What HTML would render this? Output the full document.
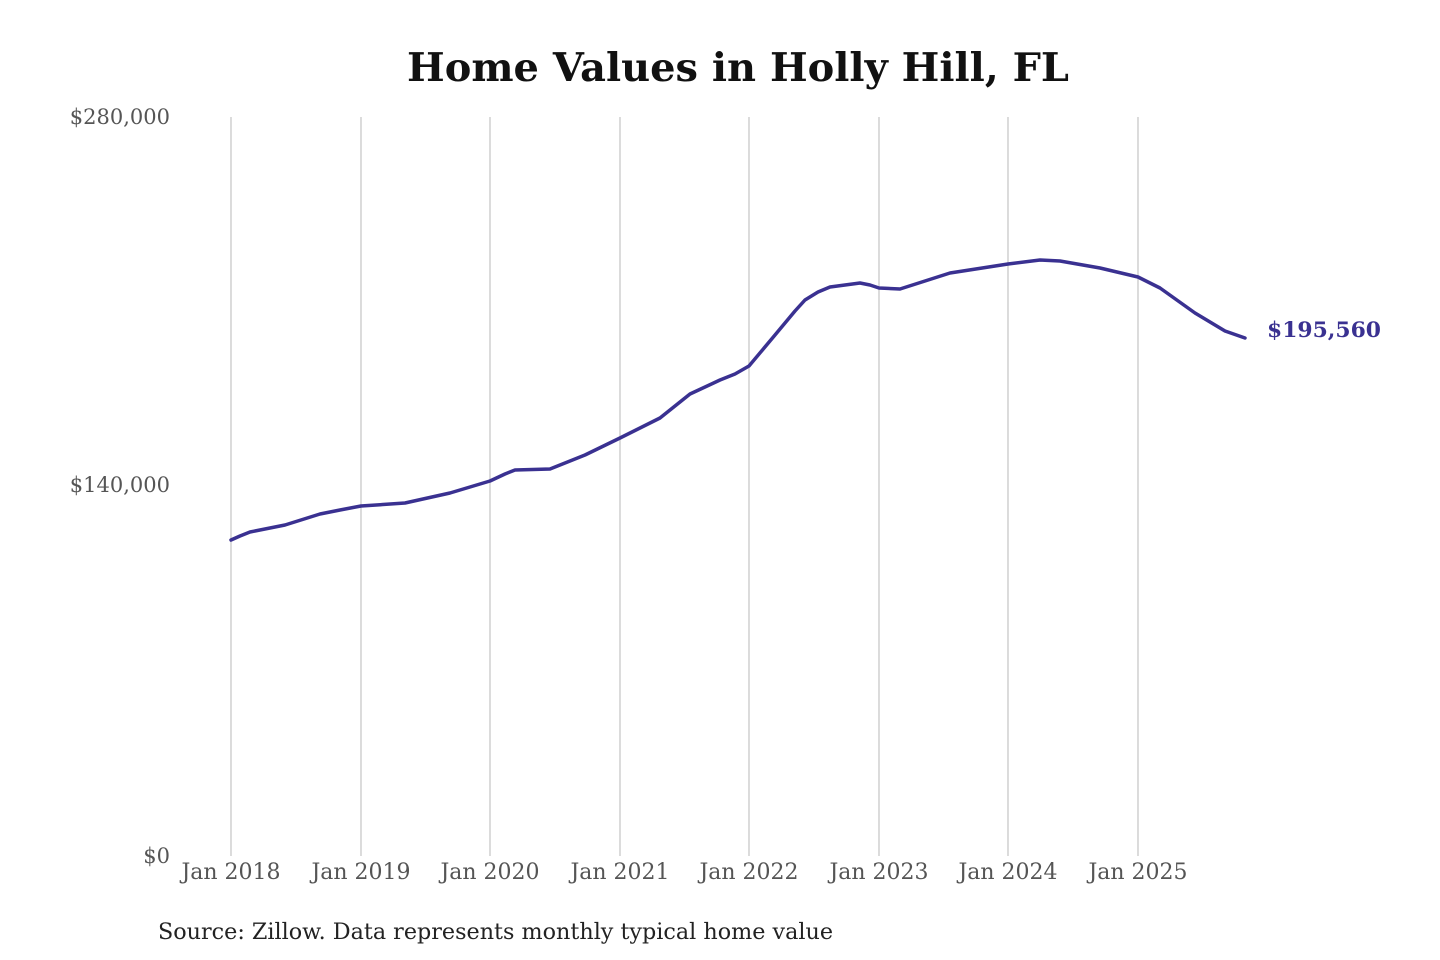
<!DOCTYPE html>
<html><head><style>
html,body{margin:0;padding:0;background:#fff;}
svg{display:block;}
text{font-family:"DejaVu Serif","Liberation Serif",serif;}
</style></head><body>
<svg width="1440" height="960" viewBox="0 0 1440 960">
<text x="738" y="81" text-anchor="middle" font-size="39" font-weight="bold" fill="#111" textLength="662" lengthAdjust="spacingAndGlyphs">Home Values in Holly Hill, FL</text>
<g stroke="#c8c8c8" stroke-width="1.3">
<line x1="231" y1="117" x2="231" y2="856"/>
<line x1="361" y1="117" x2="361" y2="856"/>
<line x1="490" y1="117" x2="490" y2="856"/>
<line x1="620" y1="117" x2="620" y2="856"/>
<line x1="749" y1="117" x2="749" y2="856"/>
<line x1="879" y1="117" x2="879" y2="856"/>
<line x1="1008" y1="117" x2="1008" y2="856"/>
<line x1="1138" y1="117" x2="1138" y2="856"/>
</g>
<g font-size="21" fill="#555" text-anchor="end">
<text x="170" y="124">$280,000</text>
<text x="170" y="492">$140,000</text>
<text x="170" y="863">$0</text>
</g>
<g font-size="22" fill="#555" text-anchor="middle">
<text x="231" y="879">Jan 2018</text>
<text x="361" y="879">Jan 2019</text>
<text x="490" y="879">Jan 2020</text>
<text x="620" y="879">Jan 2021</text>
<text x="749" y="879">Jan 2022</text>
<text x="879" y="879">Jan 2023</text>
<text x="1008" y="879">Jan 2024</text>
<text x="1138" y="879">Jan 2025</text>
</g>
<polyline fill="none" stroke="#3a3191" stroke-width="3.5" stroke-linejoin="round" stroke-linecap="round"
points="231,540 240,536 250,532 285,525 320,514 340,510 361,506 405,503 450,493 490,481 505,474 515,470 550,469 585,455 620,438 660,418 675,406 690,394 720,380 735,374 749,366 775,335 795,311 805,300 818,292 830,287 860,283 870,285 879,288 900,289 950,273 1008,264 1040,260 1060,261 1100,268 1138,277 1160,288 1195,313 1225,331 1245,338"/>
<text x="1267" y="337" font-size="21" font-weight="bold" fill="#3a3191" textLength="114" lengthAdjust="spacingAndGlyphs">$195,560</text>
<text x="158" y="939" font-size="22" fill="#222" textLength="675" lengthAdjust="spacingAndGlyphs">Source: Zillow. Data represents monthly typical home value</text>
</svg>
</body></html>
